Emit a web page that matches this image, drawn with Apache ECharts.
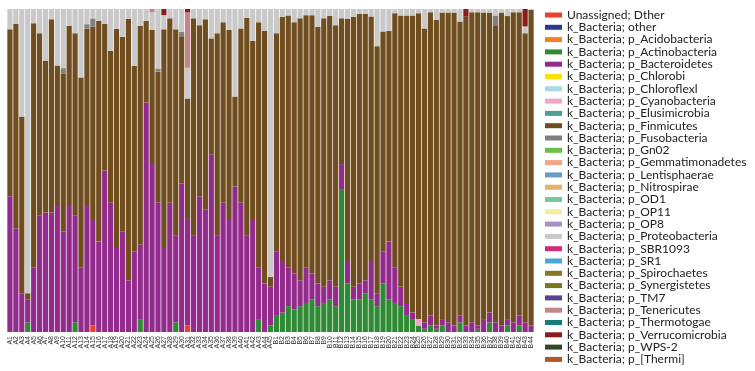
<!DOCTYPE html>
<html><head><meta charset="utf-8">
<script src="https://cdn.jsdelivr.net/npm/echarts@6/dist/echarts.min.js"></script>
<style>html,body{margin:0;padding:0;background:#fff}#c{width:755px;height:371px}</style>
</head><body><div id="c"></div>
<script>
const samples = [];
for (let i = 1; i <= 45; i++) samples.push('A' + i);
for (let i = 1; i <= 44; i++) samples.push('B' + i);

const seriesNames = [
 'Unassigned; Dther','k_Bacteria; other','k_Bacteria; p_Acidobacteria','k_Bacteria; p_Actinobacteria',
 'k_Bacteria; p_Bacteroidetes','k_Bacteria; p_Chlorobi','k_Bacteria; p_Chloroflexl','k_Bacteria; p_Cyanobacteria',
 'k_Bacteria; p_Elusimicrobia','k_Bacteria; p_Finmicutes','k_Bacteria; p_Fusobacteria','k_Bacteria; p_Gn02',
 'k_Bacteria; p_Gemmatimonadetes','k_Bacteria; p_Lentisphaerae','k_Bacteria; p_Nitrospirae','k_Bacteria; p_OD1',
 'k_Bacteria; p_OP11','k_Bacteria; p_OP8','k_Bacteria; p_Proteobacteria','k_Bacteria; p_SBR1093',
 'k_Bacteria; p_SR1','k_Bacteria; p_Spirochaetes','k_Bacteria; p_Synergistetes','k_Bacteria; p_TM7',
 'k_Bacteria; p_Tenericutes','k_Bacteria; p_Thermotogae','k_Bacteria; p_Verrucomicrobia','k_Bacteria; p_WPS-2',
 'k_Bacteria; p_[Thermi]'
];
const seriesColors = [
 '#e8412c','#2b3a8f','#f58220','#2e8b34','#922b8c','#ffe100','#a9d9e5','#f0a6c8',
 '#4f9e98','#704d1e','#808080','#6abf45','#f4a58a','#6a9bc3','#e3b26b','#79c79a',
 '#f6ec9c','#a88fc4','#c9c9c9','#d42a7c','#46a6de','#8a7625','#76771f','#5a4194',
 '#c48588','#167c7a','#8b1c1c','#2e4a23','#b4552c'
];

const unassigned = [0,0,0,0,0,0,0,0,0,0, 0,0,0,0,2,0,0,0,0,0, 0,0,0,0,0,0,0,0,0,0,
 2,0,0,0,0,0,0,0,0,0, 0,0,0,0,0,0,0,0,0,0, 0,0,0,0,0,0,0,0,0,0, 0,0,0,0,0,0,0,0,0,0,
 0,0,0,0,0,0,0,0,0,0, 0,0,0,0,0,0,0,0,0];
const actinobacteria = [0,0,0,3,0,0,0,0,0,0, 0,3,0,0,0,0,0,0,0,0, 0,0,4,0,0,0,0,0,3,0,
 0,0,0,0,0,0,0,0,0,0, 0,0,4,0,2,5,6,8,7,8, 9,10,8,9,10,8,44,15,10,10, 12,10,8,15,10,9,8,5,4,2,
 1,2,1,2,0,0,3,0,0,1, 0,3,0,0,2,0,2,0,0];
const bacteroidetes = [42,32,12,7,20,36,37,37,39,31, 39,33,20,39,33,28,50,40,26,31, 16,25,23,71,52,40,26,40,27,46,
 33,30,42,38,55,30,40,35,45,40, 30,35,16,15,12,20,16,12,11,8, 11,8,7,5,6,6,8,7,4,5, 4,12,4,10,18,11,6,4,2,0,
 2,3,1,2,3,2,2,2,3,1, 4,3,3,2,2,3,3,3,2];
const cyanobacteria = [0,0,0,0,0,0,0,0,0,0, 0,0,0,0,0,0,0,0,0,0, 0,0,0,0,0,0,0,0,0,0,
 0,0,0,0,0,0,0,0,0,0, 0,0,0,0,0,0,0,0,0,0, 0,0,0,0,0,0,0,0,0,0, 0,0,0,0,0,0,0,0,0,2,
 0,0,0,0,0,0,0,0,0,0, 0,0,0,0,0,0,0,0,0];
const firmicutes = [51.7,63.4,54.7,2,75.6,56.5,46.9,59.8,43.5,48.9, 55.8,56.5,58.8,55,59.5,68.4,45.4,47,67.8,60.4,
 80.9,57.4,67.8,25.3,41.5,40.6,67.7,57.1,63.7,45.6, 37.3,67.1,53,58.8,35.9,62.5,55.9,58.5,27.9,54,
 67.3,55.1,75.9,78.3,3,67.5,75.6,78,77.9,81.1, 78.1,80.1,79.5,83.1,81.9,81,45.1,74.9,83.6,83.5,
 82.5,75.7,76.5,68,65.3,78.7,84,89,92,94.7, 91,94,94.6,94.9,95.9,96.9,91.1,95.6,96,97,
 94.9,92.9,92,96.9,93.8,96,94,89.5,97.7];
const fusobacteria = [0,0,0,0,0,0,0,0,0,1.8, 0,0,0,1.3,2.6,0,0,0,0,0, 0,0,0,0,0,1,0,0,0,1.3,
 0,0,0,0,0,0,0,0,0,0, 0,0,0,0,0,0,0,0,0,0, 0,0,0,0,0,0,0,0,0,0, 0,0,0,0,0,0,0,0,0,0,
 0,0,0,0,0,0,0,0,0,0, 0,0,3,0,0,0,0,0,0];
const proteobacteria = [6.3,4.6,33.3,88,4.4,7.5,16.1,3.2,17.5,18.3, 5.2,7.5,21.2,4.7,2.9,3.6,4.6,13,6.2,8.6,
 3.1,17.6,5.2,3.7,5.5,18.4,4.4,2.9,6.3,7.1, 9.5,2.9,5,3.2,9.1,7.5,4.1,6.5,27.1,6,
 2.7,9.9,4.1,6.7,83,7.5,2.4,2,4.1,2.9, 1.9,1.9,5.5,2.9,2.1,5,2.9,3.1,2.4,1.5,
 1.5,2.3,11.5,7,6.7,1.3,2,2,2,1.3, 6,1,3.4,1.1,1.1,1.1,3.9,0,1,1, 1.1,1.1,2,1.1,2.2,1,1,2.1,0.3];
const tenericutes = [0,0,0,0,0,0,0,0,0,0, 0,0,0,0,0,0,0,0,0,0, 0,0,0,0,1,0,0,0,0,0,
 17.2,0,0,0,0,0,0,0,0,0, 0,0,0,0,0,0,0,0,0,0, 0,0,0,0,0,0,0,0,0,0, 0,0,0,0,0,0,0,0,0,0,
 0,0,0,0,0,0,0,0,0,0, 0,0,0,0,0,0,0,0,0];
const verrucomicrobia = [0,0,0,0,0,0,0,0,0,0, 0,0,0,0,0,0,0,0,0,0, 0,0,0,0,0,0,1.9,0,0,0,
 1,0,0,0,0,0,0,0,0,0, 0,0,0,0,0,0,0,0,0,0, 0,0,0,0,0,0,0,0,0,0, 0,0,0,0,0,0,0,0,0,0,
 0,0,0,0,0,0,0,2.4,0,0, 0,0,0,0,0,0,0,5.4,0];

const dataByName = {
 'Unassigned; Dther': unassigned,
 'k_Bacteria; p_Actinobacteria': actinobacteria,
 'k_Bacteria; p_Bacteroidetes': bacteroidetes,
 'k_Bacteria; p_Cyanobacteria': cyanobacteria,
 'k_Bacteria; p_Finmicutes': firmicutes,
 'k_Bacteria; p_Fusobacteria': fusobacteria,
 'k_Bacteria; p_Proteobacteria': proteobacteria,
 'k_Bacteria; p_Tenericutes': tenericutes,
 'k_Bacteria; p_Verrucomicrobia': verrucomicrobia
};

const series = seriesNames.map((n, i) => ({
  name: n, type: 'bar', stack: 'all', barCategoryGap: '12%',
  itemStyle: { color: seriesColors[i] },
  data: dataByName[n] || []
}));

const chart = echarts.init(document.getElementById('c'), null, { renderer: 'canvas' });
chart.setOption({
  animation: false,
  backgroundColor: '#fff',
  grid: { left: 7, right: 221, top: 9, bottom: 39 },
  xAxis: {
    type: 'category', data: samples,
    axisLine: { show: false }, axisTick: { show: false },
    axisLabel: { interval: 0, rotate: 90, fontSize: 7, color: '#333', margin: 4, fontFamily: 'Liberation Sans' }
  },
  yAxis: { type: 'value', min: 0, max: 100, show: false },
  legend: {
    orient: 'vertical', left: 540, top: 4, icon: 'rect',
    itemWidth: 17, itemHeight: 5, itemGap: 0.3,
    textStyle: { fontSize: 12, lineHeight: 12, color: '#222', fontFamily: 'Lato' },
    data: seriesNames
  },
  series: series
});
</script></body></html>
